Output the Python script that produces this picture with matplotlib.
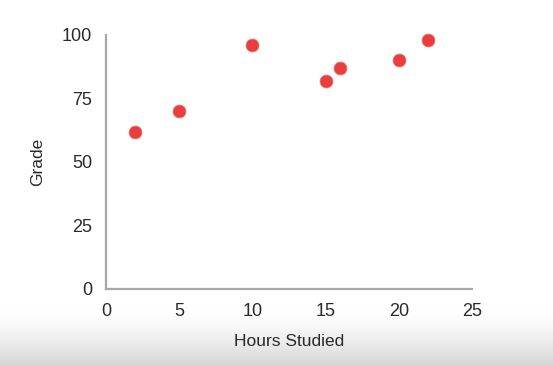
import matplotlib
matplotlib.use('Agg')
import matplotlib.pyplot as plt
import numpy as np

# data
hours = [2, 5, 10, 15, 16, 20, 22]
grades = [62, 70, 96, 82, 87, 90, 98]
x_ticks = [0, 5, 10, 15, 20, 25]
y_ticks = [0, 25, 50, 75, 100]

plt.rcParams['font.family'] = ['Liberation Sans', 'DejaVu Sans']

fig = plt.figure(figsize=(5.53, 3.66), dpi=100)
fig.patch.set_facecolor('white')

# light grey shading at the bottom of the frame (video screenshot look)
bg = fig.add_axes([0, 0, 1, 0.16], zorder=-1)
t = np.linspace(0, 1, 100) ** 1.6
grey = 1.0 - 0.17 * t
shade = np.dstack([grey, grey, grey]).reshape(-1, 1, 3)
bg.imshow(shade, aspect='auto', extent=[0, 1, 0, 1], origin='upper')
bg.axis('off')

ax = fig.add_axes([0.1917, 0.2104, 0.6618, 0.694])
ax.set_facecolor('none')
ax.scatter(hours, grades, s=85, color='#e83e3e', edgecolors='#f06a6a',
           linewidths=0.6, zorder=3, clip_on=False)

ax.set_xlim(0, 25)
ax.set_ylim(0, 100)
ax.set_xticks(x_ticks)
ax.set_yticks(y_ticks)

for side in ['top', 'right']:
    ax.spines[side].set_visible(False)
for side in ['left', 'bottom']:
    ax.spines[side].set_color('#a8a8a8')
    ax.spines[side].set_linewidth(1.6)

ax.tick_params(axis='both', length=0, labelsize=13, colors='#2a2a2a')
ax.tick_params(axis='x', pad=10)
ax.tick_params(axis='y', pad=10)

ax.set_xlabel('Hours Studied', fontsize=12.5, color='#2a2a2a', labelpad=10)
ax.set_ylabel('Grade', fontsize=12.5, color='#2a2a2a', labelpad=12)

plt.savefig('out.png', dpi=100)
